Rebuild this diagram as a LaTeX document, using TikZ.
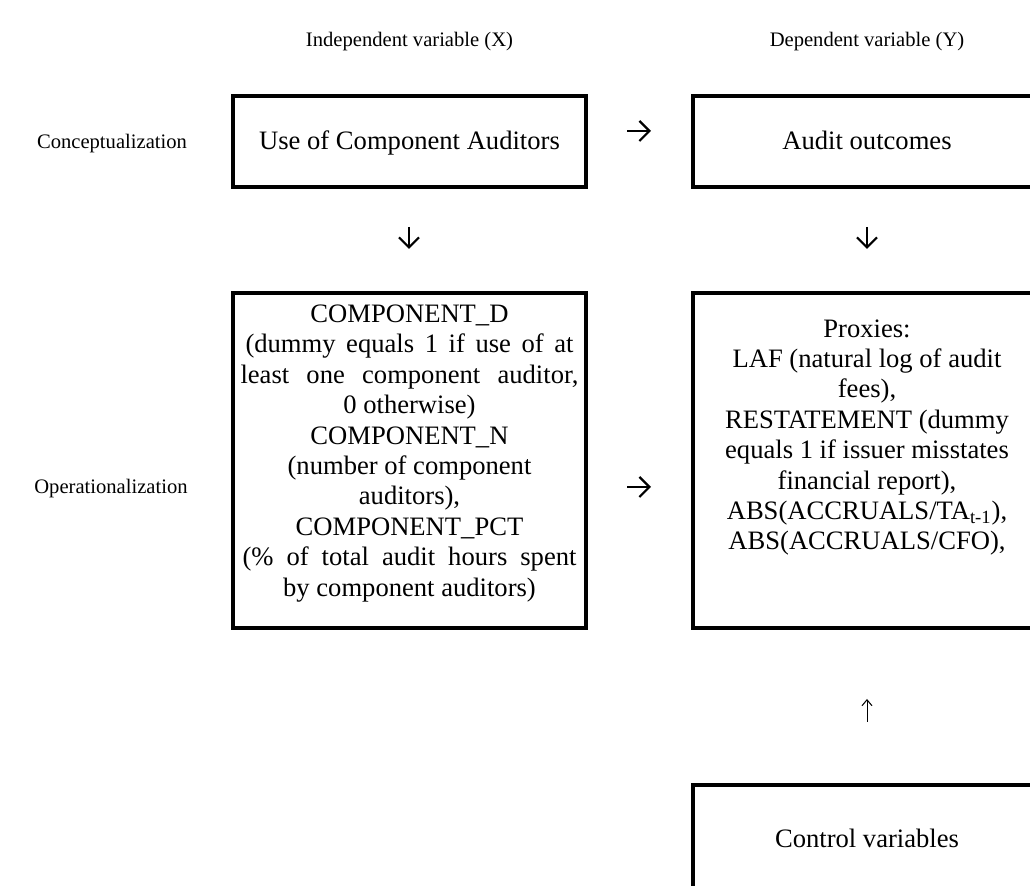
\documentclass[tikz,border=0pt]{standalone}
\usepackage{fontspec}
\setmainfont{Liberation Serif}
\usetikzlibrary{arrows.meta}
\begin{document}
\begin{tikzpicture}[x=0.5pt,y=-0.5pt,
  box/.style={draw,line width=1.6pt,inner sep=0pt},
  txt/.style={font={\fontsize{13.3pt}{15.2pt}\selectfont\lineskiplimit=-50pt},inner sep=0pt,align=center},
  lbl/.style={font={\fontsize{10.3pt}{12pt}\selectfont},inner sep=0pt},
  bigarrow/.style={line width=1.1pt,-{Straight Barb[length=5pt,width=10pt,line width=1.1pt]}},
  thinarrow/.style={line width=0.5pt,-{Straight Barb[length=3pt,width=5pt,line width=0.5pt]}}]
\useasboundingbox (0,0) rectangle (1030,886);
% boxes
\node[box,minimum width=176.5pt,minimum height=45.5pt] (b1) at (409.5,141.5) {};
\node[box,minimum width=174pt,minimum height=45.5pt] (b2) at (867,141.5) {};
\node[box,minimum width=176.5pt,minimum height=167.5pt] (b3) at (409.5,460.5) {};
\node[box,minimum width=174pt,minimum height=167.5pt] (b4) at (867,460.5) {};
\node[box,minimum width=174pt,minimum height=82.5pt] (b5) at (867,867.5) {};
% headers and row labels
\node[lbl,anchor=base] (hx) at (409.5,47) {Independent variable (X)};
\node[lbl,anchor=base] (hy) at (867,47) {Dependent variable (Y)};
\node[lbl,anchor=base] (rc) at (112,149) {Conceptualization};
\node[lbl,anchor=base] (ro) at (111,494) {Operationalization};
% box texts
\node[txt,anchor=base] (t1) at (409.5,150) {Use of Component Auditors};
\node[txt,anchor=base] (t2) at (867,150) {Audit outcomes};
\node[txt,anchor=north] (t3) at (409.5,304.5) {COMPONENT\_D\\\makebox[164pt][s]{(dummy equals 1 if use of at}\\\makebox[169pt][s]{least one component auditor,}\\0 otherwise)\\COMPONENT\_N\\(number of component\\auditors),\\COMPONENT\_PCT\\\makebox[167pt][s]{(\% of total audit hours spent}\\by component auditors)};
\node[txt,anchor=north] (t4) at (867,319) {Proxies:\\LAF (natural log of audit\\fees),\\RESTATEMENT (dummy\\equals 1 if issuer misstates\\financial report),\\ABS(ACCRUALS/TA\textsubscript{t-1}),\\ABS(ACCRUALS/CFO),};
\node[txt,anchor=base] (t5) at (867,848) {Control variables};
% arrows
\coordinate (r1s) at (627,131); \coordinate (r1e) at (651,131);
\coordinate (r2s) at (627,487); \coordinate (r2e) at (651,487);
\coordinate (d1s) at (409,227); \coordinate (d1e) at (409,249);
\coordinate (d2s) at (867,227); \coordinate (d2e) at (867,249);
\coordinate (u1s) at (867,722); \coordinate (u1e) at (867,699);
\draw[bigarrow] (r1s) -- (r1e);
\draw[bigarrow] (r2s) -- (r2e);
\draw[bigarrow] (d1s) -- (d1e);
\draw[bigarrow] (d2s) -- (d2e);
\draw[thinarrow] (u1s) -- (u1e);
\end{tikzpicture}
\end{document}
